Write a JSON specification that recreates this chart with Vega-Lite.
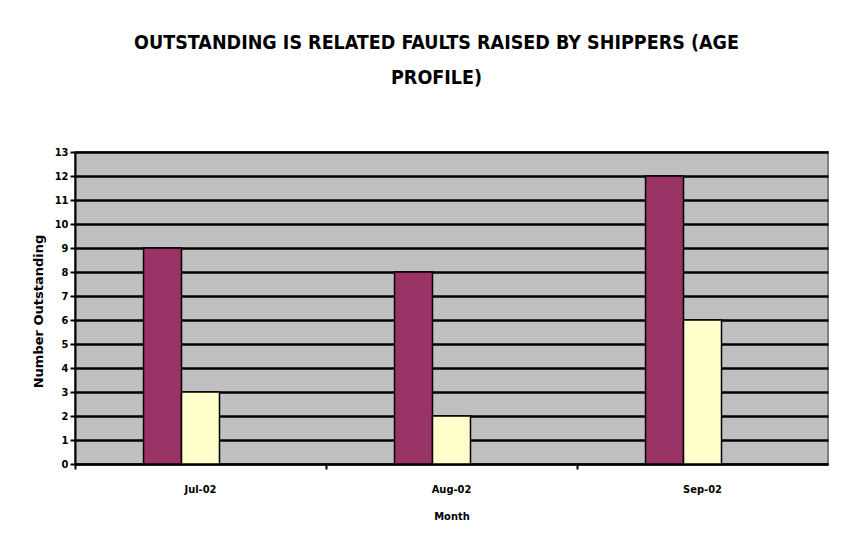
{
  "$schema": "https://vega.github.io/schema/vega-lite/v6.json",
  "autosize": {"type": "none"},
  "padding": {"left": 75, "top": 152, "right": 24, "bottom": 89},
  "width": 753,
  "height": 312,
  "background": "#FFFFFF",
  "title": {
    "text": ["OUTSTANDING IS RELATED FAULTS RAISED BY SHIPPERS (AGE", "PROFILE)"],
    "font": "DejaVu Sans Condensed, Liberation Sans, sans-serif",
    "fontSize": 19.5,
    "fontWeight": "bold",
    "color": "#000000",
    "anchor": "middle",
    "frame": "group",
    "dx": -15,
    "lineHeight": 35,
    "offset": 58
  },
  "data": {
    "values": [
      {"Month": "Jul-02", "Series": "Series 1", "Outstanding": 9},
      {"Month": "Jul-02", "Series": "Series 2", "Outstanding": 3},
      {"Month": "Aug-02", "Series": "Series 1", "Outstanding": 8},
      {"Month": "Aug-02", "Series": "Series 2", "Outstanding": 2},
      {"Month": "Sep-02", "Series": "Series 1", "Outstanding": 12},
      {"Month": "Sep-02", "Series": "Series 2", "Outstanding": 6}
    ]
  },
  "mark": {"type": "bar", "stroke": "#000000", "strokeWidth": 1.5},
  "encoding": {
    "x": {
      "field": "Month",
      "type": "nominal",
      "sort": ["Jul-02", "Aug-02", "Sep-02"],
      "scale": {"paddingInner": 0.546, "paddingOuter": 0.273},
      "axis": {
        "title": "Month",
        "labelAngle": 0,
        "bandPosition": -0.6,
        "domainColor": "#000000",
        "domainWidth": 2,
        "tickColor": "#000000",
        "tickWidth": 2,
        "tickSize": 5,
        "labelFont": "DejaVu Sans Condensed, Liberation Sans, sans-serif",
        "labelFontSize": 11,
        "labelFontWeight": "bold",
        "labelColor": "#000000",
        "labelPadding": 14,
        "titleFont": "DejaVu Sans Condensed, Liberation Sans, sans-serif",
        "titleFontSize": 11,
        "titleFontWeight": "bold",
        "titleColor": "#000000",
        "titlePadding": 16,
        "grid": false
      }
    },
    "xOffset": {
      "field": "Series",
      "type": "nominal",
      "scale": {"domain": ["Series 1", "Series 2", "Series 3"], "paddingInner": 0, "paddingOuter": 0}
    },
    "y": {
      "field": "Outstanding",
      "type": "quantitative",
      "scale": {"domain": [0, 13], "nice": false},
      "axis": {
        "title": "Number Outstanding",
        "values": [0, 1, 2, 3, 4, 5, 6, 7, 8, 9, 10, 11, 12, 13],
        "grid": true,
        "gridColor": "#000000",
        "gridWidth": 2.5,
        "gridOpacity": 1,
        "domainColor": "#000000",
        "domainWidth": 2,
        "tickColor": "#000000",
        "tickWidth": 2,
        "tickSize": 5,
        "labelFont": "DejaVu Sans Condensed, Liberation Sans, sans-serif",
        "labelFontSize": 11,
        "labelFontWeight": "bold",
        "labelColor": "#000000",
        "labelPadding": 2,
        "titleFont": "DejaVu Sans, sans-serif",
        "titleFontSize": 13,
        "titleFontWeight": "bold",
        "titleColor": "#000000",
        "titleX": -30,
        "titleY": 159
      }
    },
    "color": {
      "field": "Series",
      "type": "nominal",
      "scale": {"domain": ["Series 1", "Series 2", "Series 3"], "range": ["#993366", "#FFFFCC", "#CCFFFF"]},
      "legend": null
    }
  },
  "config": {
    "view": {"fill": "#C0C0C0", "stroke": "#808080", "strokeWidth": 2}
  }
}
